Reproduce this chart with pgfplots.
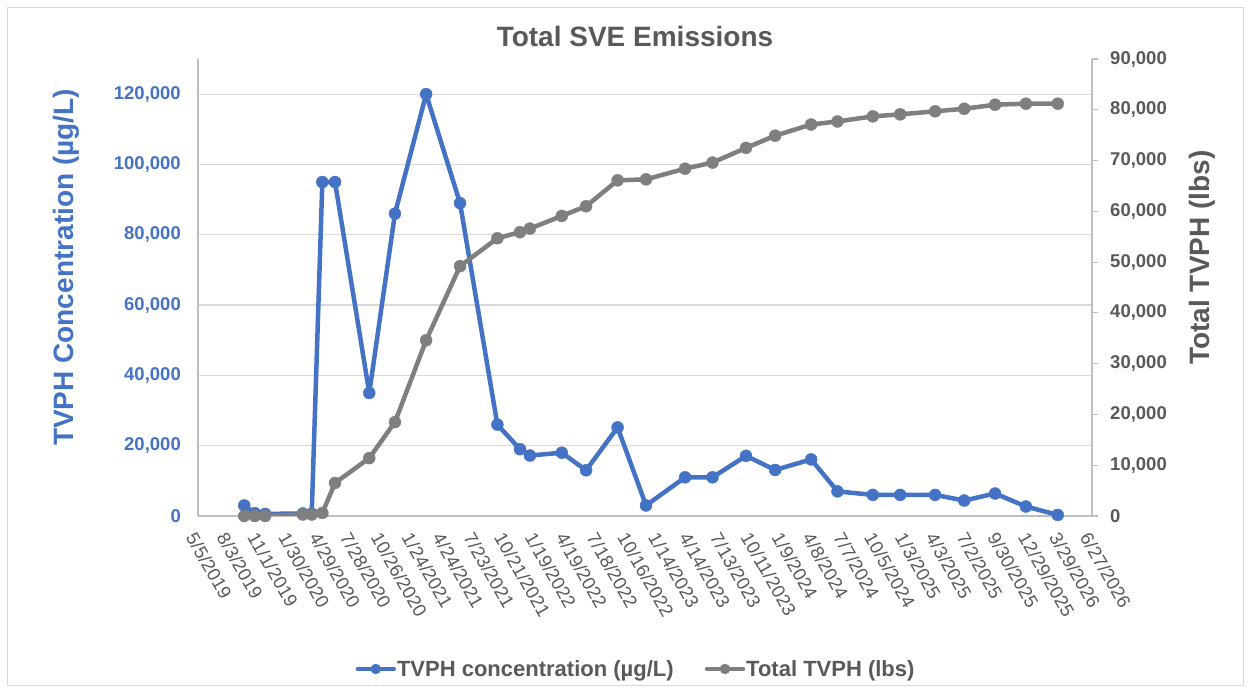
\documentclass[border=0pt]{standalone}
\usepackage{pgfplots}
\usepackage{pgfplotstable}
\pgfplotsset{compat=1.18}
\usepackage{fontspec}
\setmainfont{Liberation Sans}
\definecolor{cblue}{HTML}{4472C4}
\definecolor{cgrey}{HTML}{7F7F7F}
\definecolor{tgrey}{HTML}{595959}
\definecolor{gridc}{HTML}{D9D9D9}
\definecolor{axc}{HTML}{BFBFBF}

% x = days since 5/5/2019
\pgfplotstableread{
day conc
135 3000
166 800
196 600
306 700
332 700
363 95000
400 95000
500 35000
575 86000
666 120000
765 89000
874 26000
940 19000
969 17200
1062 18000
1133 13000
1225 25200
1308 3000
1422 11000
1502 11000
1600 17100
1685 13100
1790 16100
1867 7000
1970 6000
2050 6000
2152 6000
2237 4400
2327 6400
2417 2700
2510 300
}\conc

\pgfplotstableread{
day total
135 0
166 0
196 0
306 300
332 300
363 600
400 6500
500 11400
575 18500
666 34600
765 49200
874 54700
940 55900
969 56600
1062 59100
1133 61000
1225 66100
1308 66300
1422 68400
1502 69600
1600 72500
1685 74900
1790 77100
1867 77700
1970 78700
2050 79100
2152 79700
2237 80200
2327 81000
2417 81200
2510 81200
}\tvph

\pgfplotsset{
  base/.style={
    at={(0pt,0pt)}, anchor=south west, scale only axis,
    width=894pt, height=457pt,
    xmin=0, xmax=2610,
    scaled y ticks=false,
    /pgf/number format/.cd, fixed, 1000 sep={,}, assume math mode=true,
    /pgfplots/.cd,
  },
  ser/.style={line width=4.5pt, line join=round, line cap=round, mark=*, mark size=6pt,
    mark options={solid, line width=0.4pt}},
}

\begin{document}
\begin{tikzpicture}
\path (-198pt,-174pt) rectangle (1052pt,516pt);
\draw[gridc, line width=1pt] (-190pt,-170pt) rectangle (1045pt,508pt);

\begin{axis}[base,
  ymin=0, ymax=130000,
  axis x line*=bottom, axis y line*=left,
  axis line style={axc, line width=1.2pt, -},
  xtick={0,90,...,2610},
  xticklabels={5/5/2019,8/3/2019,11/1/2019,1/30/2020,4/29/2020,7/28/2020,10/26/2020,1/24/2021,4/24/2021,7/23/2021,10/21/2021,1/19/2022,4/19/2022,7/18/2022,10/16/2022,1/14/2023,4/14/2023,7/13/2023,10/11/2023,1/9/2024,4/8/2024,7/7/2024,10/5/2024,1/3/2025,4/3/2025,7/2/2025,9/30/2025,12/29/2025,3/29/2026,6/27/2026},
  xticklabel style={xshift=-1pt, yshift=-15pt, rotate=-60, anchor=north west, inner sep=0pt,
    font=\fontsize{18.5}{21}\selectfont, text=tgrey},
  ytick={0,20000,...,120000},
  yticklabel style={anchor=east, inner sep=0pt, xshift=-17pt,
    font=\fontsize{18.5}{22}\selectfont\bfseries, text=cblue},
  major tick length=0pt,
  ymajorgrids, major grid style={gridc, line width=1.2pt},
  ylabel={TVPH Concentration (µg/L)},
  every axis y label/.style={at={(axis description cs:-0.1477,0.5438)}, rotate=90, anchor=center,
    font=\fontsize{28}{32}\selectfont\bfseries, text=cblue},
]
\addplot[ser, color=cblue] table[x=day, y=conc] {\conc};
\end{axis}

\begin{axis}[base,
  ymin=0, ymax=90000,
  axis x line=none, axis y line*=right,
  axis line style={axc, line width=1.2pt, -},
  ytick={0,10000,...,90000},
  tick align=outside, major tick length=6pt,
  ytick style={axc, line width=1.2pt},
  yticklabel style={anchor=west, inner sep=0pt, xshift=12pt,
    font=\fontsize{18.5}{22}\selectfont\bfseries, text=tgrey},
  ylabel={Total TVPH (lbs)},
  every axis y label/.style={at={(axis description cs:1.1230,0.5656)}, rotate=90, anchor=center,
    font=\fontsize{28}{32}\selectfont\bfseries, text=tgrey},
  legend columns=2,
  legend style={at={(axis description cs:0.4894,-0.3348)}, anchor=center, draw=none, fill=none,
    font=\fontsize{22}{26}\selectfont\bfseries, text=tgrey,
    nodes={inner sep=1pt},
    /tikz/every even column/.append style={column sep=30pt}},
  legend image code/.code={\draw[#1, mark repeat=2, mark phase=2, mark size=5pt]
    plot coordinates {(0pt,0pt) (18pt,0pt) (36pt,0pt)};},
]
\addlegendimage{ser, color=cblue}
\addlegendentry{TVPH concentration (µg/L)}
\addplot[ser, color=cgrey] table[x=day, y=total] {\tvph};
\addlegendentry{Total TVPH (lbs)}
\end{axis}

\node[font=\fontsize{28}{32}\selectfont\bfseries, text=tgrey] at (437pt,479.3pt) {Total SVE Emissions};
\end{tikzpicture}
\end{document}
